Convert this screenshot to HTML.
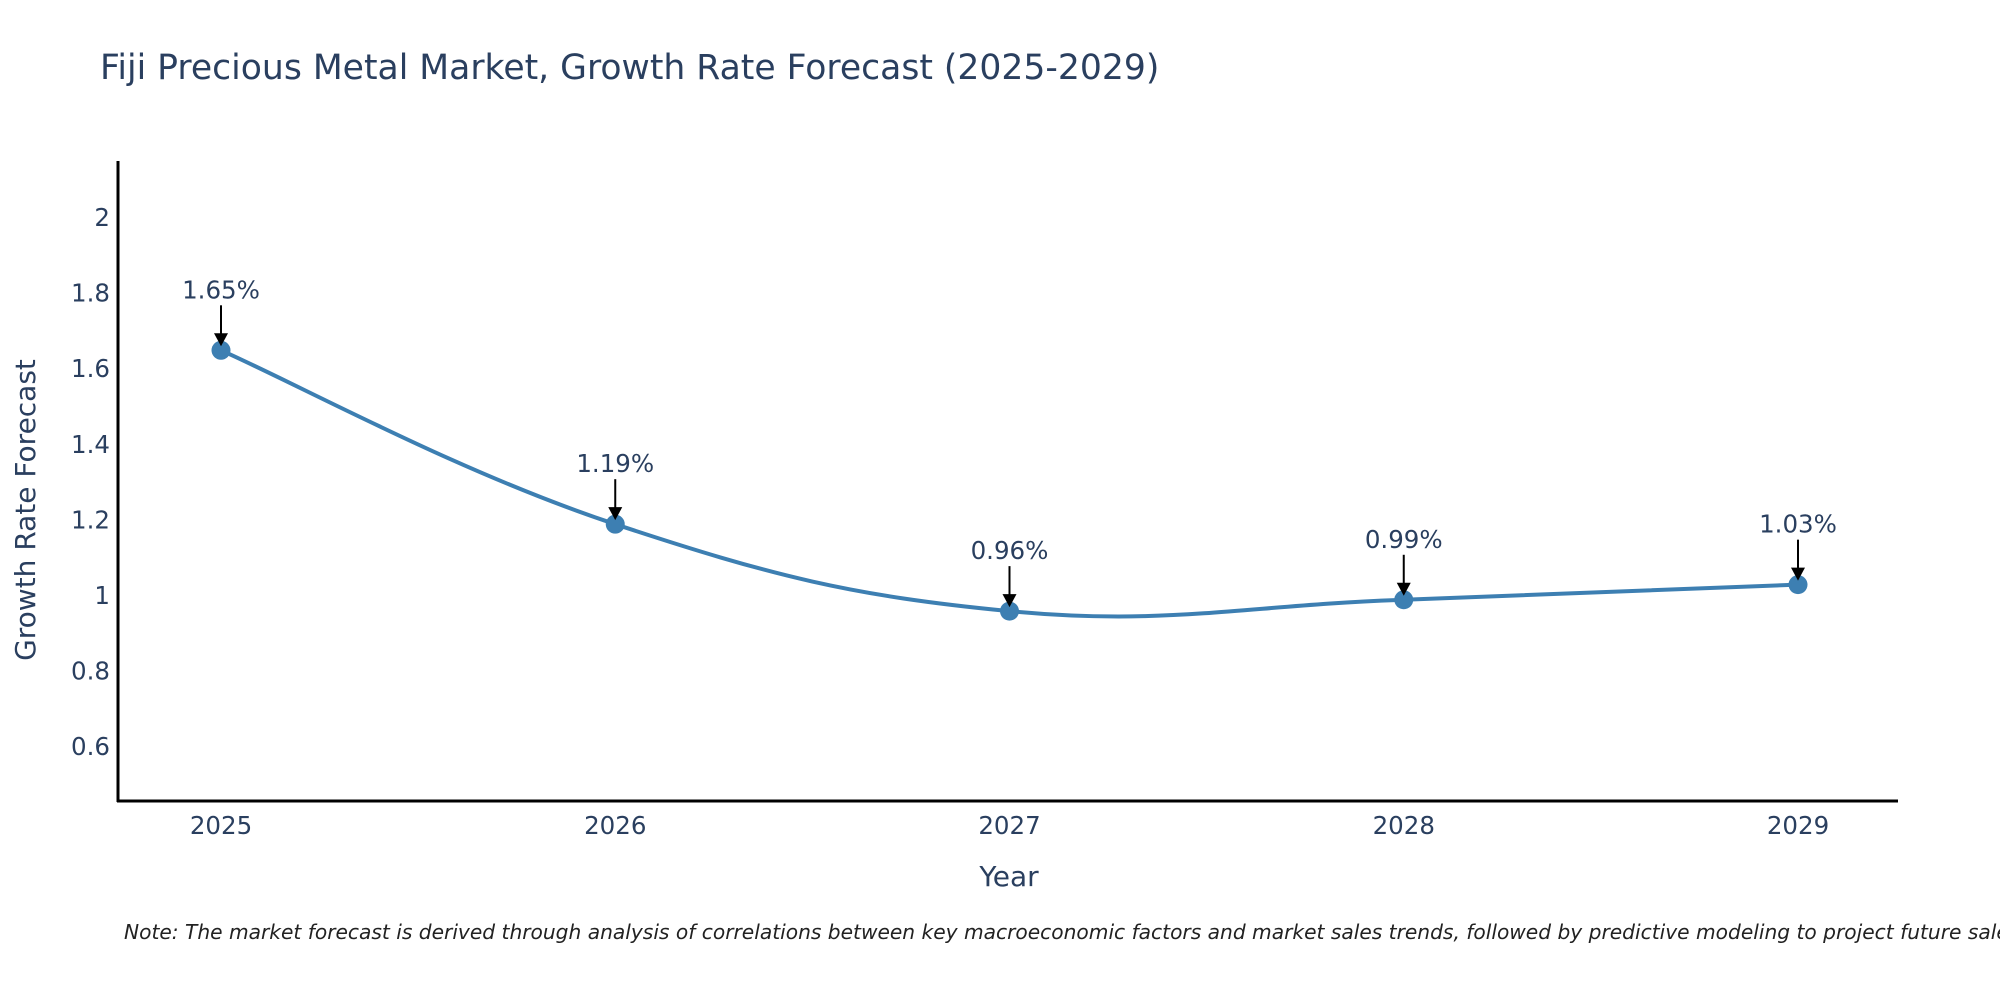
<!DOCTYPE html>
<html><head><meta charset="utf-8"><style>
body{margin:0;background:#fff;}
svg text{font-family:"DejaVu Sans","Liberation Sans",sans-serif;}
</style></head><body>
<svg id="chart" width="2000" height="1000" viewBox="0 0 2000 1000" xmlns="http://www.w3.org/2000/svg">
<rect width="2000" height="1000" fill="#fff"/>
<text x="100" y="79" font-size="34.6" fill="#2a3f5f">Fiji Precious Metal Market, Growth Rate Forecast (2025-2029)</text>
<g id="grid"></g>
<g id="plot"></g>
<line x1="118" y1="161" x2="118" y2="802" stroke="#000" stroke-width="3"/>
<line x1="117" y1="801" x2="1898" y2="801" stroke="#000" stroke-width="3"/>
<text x="1009" y="886" font-size="28" fill="#2a3f5f" text-anchor="middle">Year</text>
<text transform="translate(35,510) rotate(-90)" font-size="28" fill="#2a3f5f" text-anchor="middle">Growth Rate Forecast</text>
<text x="124" y="939" font-size="20.2" font-style="italic" fill="#222">Note: The market forecast is derived through analysis of correlations between key macroeconomic factors and market sales trends, followed by predictive modeling to project future sales.</text>
</svg>
<script>
const years = [2025, 2026, 2027, 2028, 2029];
const growth = [1.65, 1.19, 0.96, 0.99, 1.03];
const yTicks = [0.6, 0.8, 1, 1.2, 1.4, 1.6, 1.8, 2];
const NS = "http://www.w3.org/2000/svg";
const xScale = v => 221 + (v - 2025) * (1798 - 221) / 4;
const yScale = v => 596 - (v - 1) * 378;
const plot = document.getElementById('plot');
const grid = document.getElementById('grid');
function mk(tag, attrs, parent){const e=document.createElementNS(NS,tag);for(const k in attrs)e.setAttribute(k,attrs[k]);parent.appendChild(e);return e;}
yTicks.forEach(t=>{
  const e=mk('text',{x:110,y:yScale(t)+8,'font-size':24.5,fill:'#2a3f5f','text-anchor':'end'},grid);
  e.textContent=String(t);
  
  
});
years.forEach(y=>{
  const e=mk('text',{x:xScale(y),y:834,'font-size':24.5,fill:'#2a3f5f','text-anchor':'middle'},grid);
  e.textContent=String(y);
  
  
});
const pts = years.map((y,i)=>[xScale(y), yScale(growth[i])]);
let d = `M${pts[0][0]},${pts[0][1]}`;
for(let i=0;i<pts.length-1;i++){
  const p0=pts[Math.max(0,i-1)],p1=pts[i],p2=pts[i+1],p3=pts[Math.min(pts.length-1,i+2)];
  const t=0.2;
  const c1=[p1[0]+(p2[0]-p0[0])*t,p1[1]+(p2[1]-p0[1])*t];
  const c2=[p2[0]-(p3[0]-p1[0])*t,p2[1]-(p3[1]-p1[1])*t];
  d+=` C${c1[0]},${c1[1]} ${c2[0]},${c2[1]} ${p2[0]},${p2[1]}`;
}
const line=mk('path',{d:d,fill:'none',stroke:'#3d7fb2','stroke-width':4},plot);


pts.forEach((p,i)=>{
  const c=mk('circle',{cx:p[0],cy:p[1],r:9.5,fill:'#3d7fb2'},plot);
  
  
  const a=mk('line',{x1:p[0],y1:p[1]-45,x2:p[0],y2:p[1]-14,stroke:'#000','stroke-width':2},plot);
  
  
  const h=mk('polygon',{points:`${p[0]-7},${p[1]-17} ${p[0]+7},${p[1]-17} ${p[0]},${p[1]-4}`,fill:'#000'},plot);
  
  
  const t=mk('text',{x:p[0],y:p[1]-52,'font-size':24.5,fill:'#2a3f5f','text-anchor':'middle'},plot);
  t.textContent=growth[i].toFixed(2)+'%';
  
  
});
</script>
</body></html>
